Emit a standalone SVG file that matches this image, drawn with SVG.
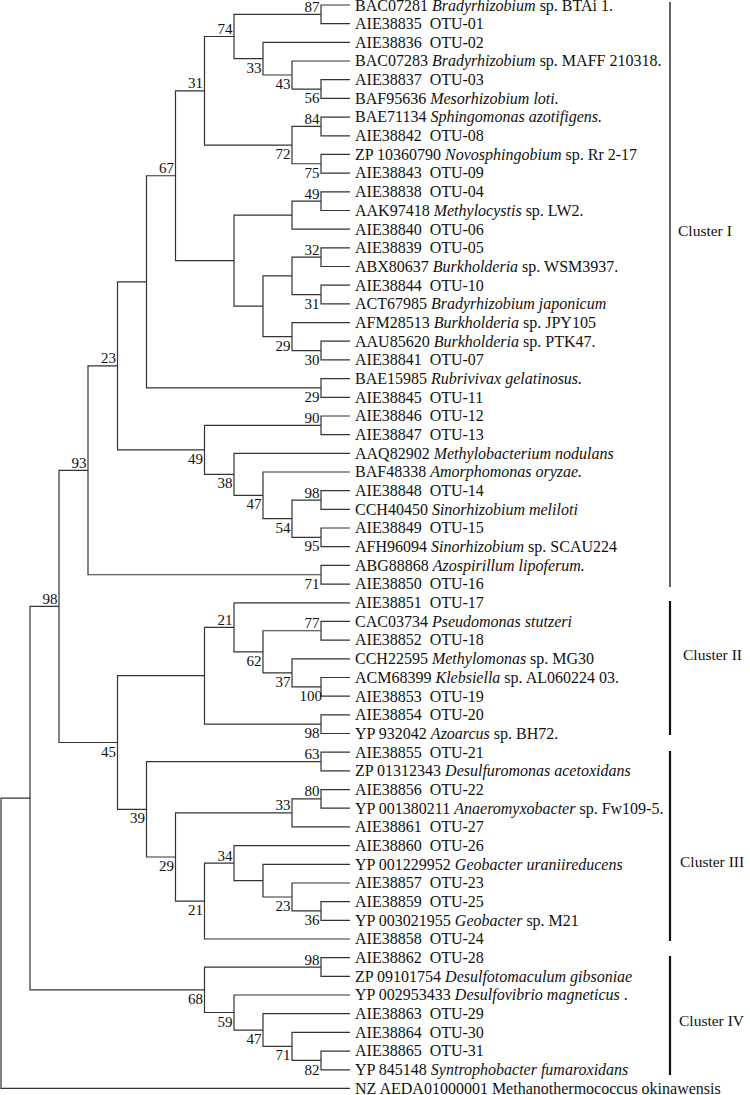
<svg xmlns="http://www.w3.org/2000/svg" width="750" height="1095" viewBox="0 0 750 1095">
<style>
.br{fill:none;stroke:#333;stroke-width:1.2}
.lf{font-family:"Liberation Serif","Times New Roman",serif;font-size:16px;fill:#111}
.bs{font-family:"Liberation Serif","Times New Roman",serif;font-size:15px;fill:#111;text-anchor:end}
.cl{font-family:"Liberation Serif","Times New Roman",serif;font-size:15.5px;fill:#111}
.i{font-style:italic}
.bar{stroke:#111;stroke-width:2.2}
.bar1{stroke:#555;stroke-width:1.8}
</style>
<rect width="750" height="1095" fill="#fff"/>
<g id="connectors" class="br">
<path d="M350,5H321V23.7H350"/>
<path d="M350,79.7H321V98.4H350"/>
<path d="M350,61H292V89.05H321"/>
<path d="M350,42.4H263V75H292"/>
<path d="M321,14.35H234V58.7H263"/>
<path d="M350,117.1H321V135.8H350"/>
<path d="M350,154.4H321V173.1H350"/>
<path d="M321,126.45H292V163.75H321"/>
<path d="M234,36.5H204.5V145.1H292"/>
<path d="M350,191.8H321V210.5H350"/>
<path d="M321,201.15H292V229.2H350"/>
<path d="M350,247.8H321V266.5H350"/>
<path d="M350,285.2H321V303.9H350"/>
<path d="M321,257.15H292V294.55H321"/>
<path d="M350,341.2H321V359.9H350"/>
<path d="M350,322.6H292V350.55H321"/>
<path d="M292,275.85H263V336.6H292"/>
<path d="M292,215.2H234V306.2H263"/>
<path d="M204.5,90.8H175.5V260.7H234"/>
<path d="M350,378.6H321V397.3H350"/>
<path d="M175.5,175.75H146.5V387.95H321"/>
<path d="M350,416H321V434.6H350"/>
<path d="M350,490.7H321V509.4H350"/>
<path d="M350,528H321V546.7H350"/>
<path d="M321,500.05H292V537.35H321"/>
<path d="M350,472H263V518.7H292"/>
<path d="M350,453.3H234V495.35H263"/>
<path d="M321,425.3H204.5V474.3H234"/>
<path d="M146.5,281.85H117.5V449.8H204.5"/>
<path d="M350,565.4H321V584.1H350"/>
<path d="M117.5,365.8H88V574.75H321"/>
<path d="M350,621.4H321V640.1H350"/>
<path d="M350,677.5H321V696.2H350"/>
<path d="M350,658.8H292V686.85H321"/>
<path d="M321,630.75H263V672.8H292"/>
<path d="M350,602.8H234V651.8H263"/>
<path d="M350,714.8H321V733.5H350"/>
<path d="M234,627.3H204.5V724.15H321"/>
<path d="M350,752.2H321V770.9H350"/>
<path d="M350,789.6H321V808.2H350"/>
<path d="M321,798.9H292V826.9H350"/>
<path d="M350,901.6H321V920.3H350"/>
<path d="M350,883H292V910.95H321"/>
<path d="M350,864.3H263V897H292"/>
<path d="M350,845.6H234V880.65H263"/>
<path d="M234,863.1H204.5V939H350"/>
<path d="M292,812.9H175.5V901.05H204.5"/>
<path d="M321,761.55H146.5V857H175.5"/>
<path d="M204.5,675.7H117.5V809.3H146.5"/>
<path d="M88,470.3H59V742.5H117.5"/>
<path d="M350,957.7H321V976.4H350"/>
<path d="M350,1051.1H321V1069.8H350"/>
<path d="M350,1032.4H292V1060.45H321"/>
<path d="M350,1013.7H263V1046.4H292"/>
<path d="M350,995H234V1030.05H263"/>
<path d="M321,967.05H204.5V1012.5H234"/>
<path d="M59,606.4H30V989.8H204.5"/>
<path d="M30,798.1H1V1088.4H350"/>
</g>
<g id="leaves" class="lf">
<g id="leaf-01"><text x="355" y="10.8">BAC07281 <tspan class="i">Bradyrhizobium</tspan> sp. BTAi 1.</text></g>
<g id="leaf-02"><text x="355" y="29">AIE38835&#160; OTU-01</text></g>
<g id="leaf-03"><text x="355" y="47.7">AIE38836&#160; OTU-02</text></g>
<g id="leaf-04"><text x="355" y="66.3">BAC07283 <tspan class="i">Bradyrhizobium</tspan> sp. MAFF 210318.</text></g>
<g id="leaf-05"><text x="355" y="85">AIE38837&#160; OTU-03</text></g>
<g id="leaf-06"><text x="355" y="103.7">BAF95636 <tspan class="i">Mesorhizobium loti.</tspan></text></g>
<g id="leaf-07"><text x="355" y="122.4">BAE71134 <tspan class="i">Sphingomonas azotifigens.</tspan></text></g>
<g id="leaf-08"><text x="355" y="141.1">AIE38842&#160; OTU-08</text></g>
<g id="leaf-09"><text x="355" y="159.7">ZP 10360790 <tspan class="i">Novosphingobium</tspan> sp. Rr 2-17</text></g>
<g id="leaf-10"><text x="355" y="178.4">AIE38843&#160; OTU-09</text></g>
<g id="leaf-11"><text x="355" y="197.1">AIE38838&#160; OTU-04</text></g>
<g id="leaf-12"><text x="355" y="215.8">AAK97418 <tspan class="i">Methylocystis</tspan> sp. LW2.</text></g>
<g id="leaf-13"><text x="355" y="234.5">AIE38840&#160; OTU-06</text></g>
<g id="leaf-14"><text x="355" y="253.1">AIE38839&#160; OTU-05</text></g>
<g id="leaf-15"><text x="355" y="271.8">ABX80637 <tspan class="i">Burkholderia</tspan> sp. WSM3937.</text></g>
<g id="leaf-16"><text x="355" y="290.5">AIE38844&#160; OTU-10</text></g>
<g id="leaf-17"><text x="355" y="309.2">ACT67985 <tspan class="i">Bradyrhizobium japonicum</tspan></text></g>
<g id="leaf-18"><text x="355" y="327.9">AFM28513 <tspan class="i">Burkholderia</tspan> sp. JPY105</text></g>
<g id="leaf-19"><text x="355" y="346.5">AAU85620 <tspan class="i">Burkholderia</tspan> sp. PTK47.</text></g>
<g id="leaf-20"><text x="355" y="365.2">AIE38841&#160; OTU-07</text></g>
<g id="leaf-21"><text x="355" y="383.9">BAE15985 <tspan class="i">Rubrivivax gelatinosus.</tspan></text></g>
<g id="leaf-22"><text x="355" y="402.6">AIE38845&#160; OTU-11</text></g>
<g id="leaf-23"><text x="355" y="421.3">AIE38846&#160; OTU-12</text></g>
<g id="leaf-24"><text x="355" y="439.9">AIE38847&#160; OTU-13</text></g>
<g id="leaf-25"><text x="355" y="458.6">AAQ82902 <tspan class="i">Methylobacterium nodulans</tspan></text></g>
<g id="leaf-26"><text x="355" y="477.3">BAF48338 <tspan class="i">Amorphomonas oryzae.</tspan></text></g>
<g id="leaf-27"><text x="355" y="496">AIE38848&#160; OTU-14</text></g>
<g id="leaf-28"><text x="355" y="514.7">CCH40450 <tspan class="i">Sinorhizobium meliloti</tspan></text></g>
<g id="leaf-29"><text x="355" y="533.3">AIE38849&#160; OTU-15</text></g>
<g id="leaf-30"><text x="355" y="552">AFH96094 <tspan class="i">Sinorhizobium</tspan> sp. SCAU224</text></g>
<g id="leaf-31"><text x="355" y="570.7">ABG88868 <tspan class="i">Azospirillum lipoferum.</tspan></text></g>
<g id="leaf-32"><text x="355" y="589.4">AIE38850&#160; OTU-16</text></g>
<g id="leaf-33"><text x="355" y="608.1">AIE38851&#160; OTU-17</text></g>
<g id="leaf-34"><text x="355" y="626.7">CAC03734 <tspan class="i">Pseudomonas stutzeri</tspan></text></g>
<g id="leaf-35"><text x="355" y="645.4">AIE38852&#160; OTU-18</text></g>
<g id="leaf-36"><text x="355" y="664.1">CCH22595 <tspan class="i">Methylomonas</tspan> sp. MG30</text></g>
<g id="leaf-37"><text x="355" y="682.8">ACM68399 <tspan class="i">Klebsiella</tspan> sp. AL060224 03.</text></g>
<g id="leaf-38"><text x="355" y="701.5">AIE38853&#160; OTU-19</text></g>
<g id="leaf-39"><text x="355" y="720.1">AIE38854&#160; OTU-20</text></g>
<g id="leaf-40"><text x="355" y="738.8">YP 932042 <tspan class="i">Azoarcus</tspan> sp. BH72.</text></g>
<g id="leaf-41"><text x="355" y="757.5">AIE38855&#160; OTU-21</text></g>
<g id="leaf-42"><text x="355" y="776.2">ZP 01312343 <tspan class="i">Desulfuromonas acetoxidans</tspan></text></g>
<g id="leaf-43"><text x="355" y="794.9">AIE38856&#160; OTU-22</text></g>
<g id="leaf-44"><text x="355" y="813.5">YP 001380211 <tspan class="i">Anaeromyxobacter</tspan> sp. Fw109-5.</text></g>
<g id="leaf-45"><text x="355" y="832.2">AIE38861&#160; OTU-27</text></g>
<g id="leaf-46"><text x="355" y="850.9">AIE38860&#160; OTU-26</text></g>
<g id="leaf-47"><text x="355" y="869.6">YP 001229952 <tspan class="i">Geobacter uraniireducens</tspan></text></g>
<g id="leaf-48"><text x="355" y="888.3">AIE38857&#160; OTU-23</text></g>
<g id="leaf-49"><text x="355" y="906.9">AIE38859&#160; OTU-25</text></g>
<g id="leaf-50"><text x="355" y="925.6">YP 003021955 <tspan class="i">Geobacter</tspan> sp. M21</text></g>
<g id="leaf-51"><text x="355" y="944.3">AIE38858&#160; OTU-24</text></g>
<g id="leaf-52"><text x="355" y="963">AIE38862&#160; OTU-28</text></g>
<g id="leaf-53"><text x="355" y="981.7">ZP 09101754 <tspan class="i">Desulfotomaculum gibsoniae</tspan></text></g>
<g id="leaf-54"><text x="355" y="1000.3">YP 002953433 <tspan class="i">Desulfovibrio magneticus</tspan> .</text></g>
<g id="leaf-55"><text x="355" y="1019">AIE38863&#160; OTU-29</text></g>
<g id="leaf-56"><text x="355" y="1037.7">AIE38864&#160; OTU-30</text></g>
<g id="leaf-57"><text x="355" y="1056.4">AIE38865&#160; OTU-31</text></g>
<g id="leaf-58"><text x="355" y="1075.1">YP 845148 <tspan class="i">Syntrophobacter fumaroxidans</tspan></text></g>
<g id="leaf-59"><text x="355" y="1093.7">NZ AEDA01000001 Methanothermococcus okinawensis</text></g>
</g>
<g id="bootstrap" class="bs">
<text x="319.5" y="11.9">87</text>
<text x="232.5" y="34">74</text>
<text x="261.5" y="72.7">33</text>
<text x="290.5" y="89">43</text>
<text x="319.5" y="103">56</text>
<text x="203" y="88.3">31</text>
<text x="319.5" y="124">84</text>
<text x="290.5" y="159.1">72</text>
<text x="319.5" y="177.8">75</text>
<text x="174" y="173.3">67</text>
<text x="319.5" y="198.7">49</text>
<text x="319.5" y="254.7">32</text>
<text x="319.5" y="308.6">31</text>
<text x="290.5" y="350.6">29</text>
<text x="319.5" y="364.6">30</text>
<text x="116" y="363.3">23</text>
<text x="319.5" y="402">29</text>
<text x="319.5" y="422.8">90</text>
<text x="203" y="463.8">49</text>
<text x="232.5" y="488.3">38</text>
<text x="261.5" y="509.4">47</text>
<text x="290.5" y="532.7">54</text>
<text x="319.5" y="497.6">98</text>
<text x="319.5" y="551.4">95</text>
<text x="86.5" y="467.8">93</text>
<text x="319.5" y="588.8">71</text>
<text x="57.5" y="603.9">98</text>
<text x="232.5" y="624.8">21</text>
<text x="319.5" y="628.3">77</text>
<text x="261.5" y="665.8">62</text>
<text x="290.5" y="686.8">37</text>
<text x="322" y="700.9">100</text>
<text x="319.5" y="738.2">98</text>
<text x="116" y="756.5">45</text>
<text x="319.5" y="759.1">63</text>
<text x="319.5" y="796.4">80</text>
<text x="290.5" y="810.4">33</text>
<text x="145" y="823.3">39</text>
<text x="174" y="871">29</text>
<text x="232.5" y="860.6">34</text>
<text x="290.5" y="911">23</text>
<text x="319.5" y="925">36</text>
<text x="203" y="915.1">21</text>
<text x="319.5" y="964.6">98</text>
<text x="203" y="1003.8">68</text>
<text x="232.5" y="1026.5">59</text>
<text x="261.5" y="1044.1">47</text>
<text x="290.5" y="1060.4">71</text>
<text x="319.5" y="1074.5">82</text>
</g>
<g id="cluster-1"><line class="bar1" x1="670" y1="2" x2="670" y2="587"/><text class="cl" x="678" y="236">Cluster I</text></g>
<g id="cluster-2"><line class="bar" x1="670" y1="601" x2="670" y2="735"/><text class="cl" x="683" y="660">Cluster II</text></g>
<g id="cluster-3"><line class="bar" x1="670" y1="751" x2="670" y2="941"/><text class="cl" x="680" y="867">Cluster III</text></g>
<g id="cluster-4"><line class="bar" x1="670" y1="956" x2="670" y2="1075"/><text class="cl" x="679" y="1026">Cluster IV</text></g>
</svg>
